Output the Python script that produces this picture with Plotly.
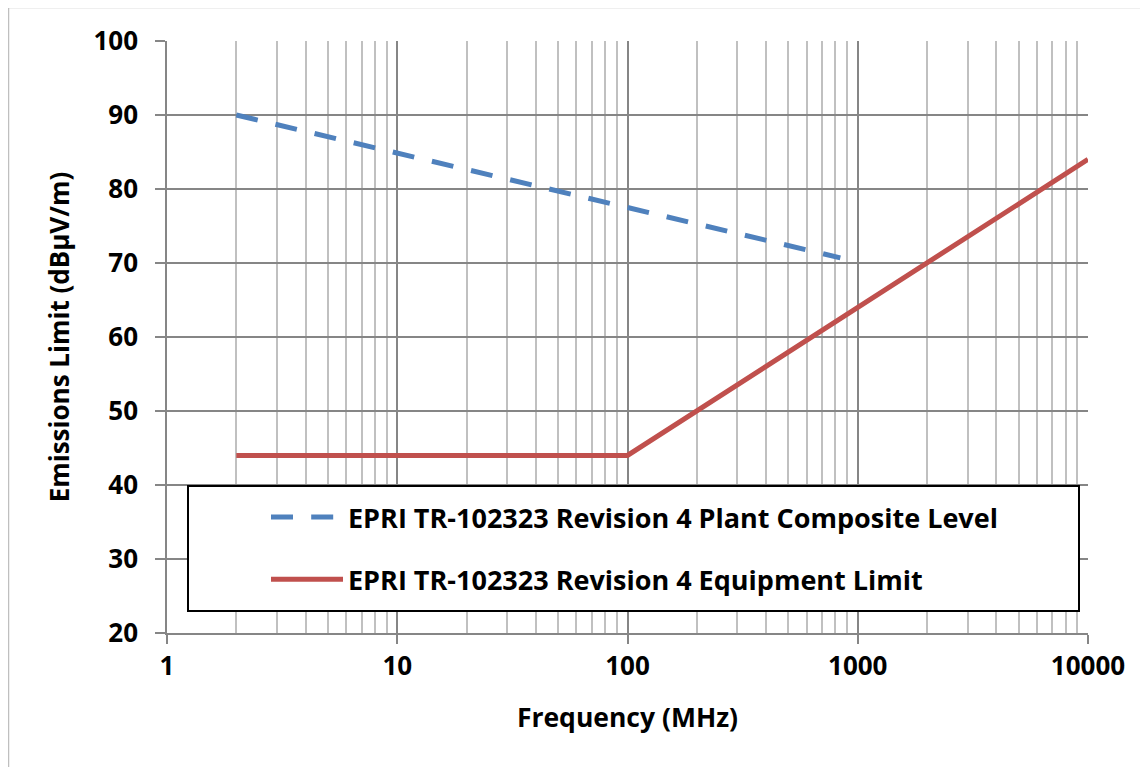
import plotly.graph_objects as go

# Data
plant_freq = [2, 840]
plant_level = [90, 70.7]
equip_freq = [2, 100, 10000]
equip_level = [44, 44, 84]
names = ["EPRI TR-102323 Revision 4 Plant Composite Level",
         "EPRI TR-102323 Revision 4 Equipment Limit"]
x_ticks = [1, 10, 100, 1000, 10000]
y_ticks = [20, 30, 40, 50, 60, 70, 80, 90, 100]

FONT = "Open Sans"
BLUE = "#4F81BD"
RED = "#C0504D"

fig = go.Figure()
fig.add_trace(go.Scatter(x=plant_freq, y=plant_level, mode="lines", name=names[0],
                         legendgroup="a",
                         line=dict(color=BLUE, width=5, dash="22px,18.2px")))
fig.add_trace(go.Scatter(x=equip_freq, y=equip_level, mode="lines", name=names[1],
                         legendgroup="b",
                         line=dict(color=RED, width=5)))

OFF = 8  # browser body margin
L, R, T, B = 167 - OFF, 1088 - OFF, 41 - OFF, 633 - OFF
W, H = 1148 - OFF, 767 - OFF

def px(x):
    return (x - OFF - L) / (R - L)

def py(y):
    return (B - (y - OFF)) / (B - T)

# legend box
fig.add_shape(type="rect", xref="paper", yref="paper",
              x0=px(188), x1=px(1079), y0=py(611), y1=py(486),
              line=dict(color="black", width=2), fillcolor="white", layer="above")
# outer border
fig.add_shape(type="rect", xref="paper", yref="paper",
              x0=px(8.5), x1=px(1170), y0=py(790), y1=py(7.5),
              line=dict(color="#bfbfbf", width=1.5), fillcolor="rgba(0,0,0,0)")

fig.update_layout(
    width=W, height=H,
    margin=dict(l=L, r=W - R, t=T, b=H - B),
    paper_bgcolor="white", plot_bgcolor="white",
    font=dict(family=FONT, color="black", size=26),
    showlegend=True,
    legend=dict(x=px(266), y=py(493), xanchor="left", yanchor="top",
                bgcolor="rgba(0,0,0,0)", borderwidth=0,
                font=dict(family=FONT, size=27, color="black", weight="bold"),
                itemwidth=72, traceorder="grouped", tracegroupgap=24),
    xaxis=dict(type="log", range=[0, 4], tickvals=x_ticks,
               ticktext=[str(v) for v in x_ticks],
               tickfont=dict(family=FONT, size=26, weight="bold"),
               showgrid=True, gridcolor="#868686", gridwidth=1.5,
               minor=dict(dtick="D1", showgrid=True, gridcolor="#c0c0c0", gridwidth=1.5, ticks=""),
               showline=True, linecolor="#868686", linewidth=1.5,
               ticks="outside", ticklen=9, tickcolor="#868686", tickwidth=1.5,
               zeroline=False,
               title=dict(text="Frequency (MHz)", font=dict(family=FONT, size=26.5, weight="bold"), standoff=26)),
    yaxis=dict(range=[20, 100], tickvals=y_ticks,
               tickfont=dict(family=FONT, size=26, weight="bold"),
               showgrid=True, gridcolor="#868686", gridwidth=1.5,
               showline=True, linecolor="#868686", linewidth=1.5,
               ticks="outside", ticklen=10, tickcolor="#868686", tickwidth=1.5,
               ticklabelstandoff=12, zeroline=False,
               title=dict(text="Emissions Limit (dBµV/m)", font=dict(family=FONT, size=26, weight="bold"), standoff=16)),
)

fig.write_html("out.html")
